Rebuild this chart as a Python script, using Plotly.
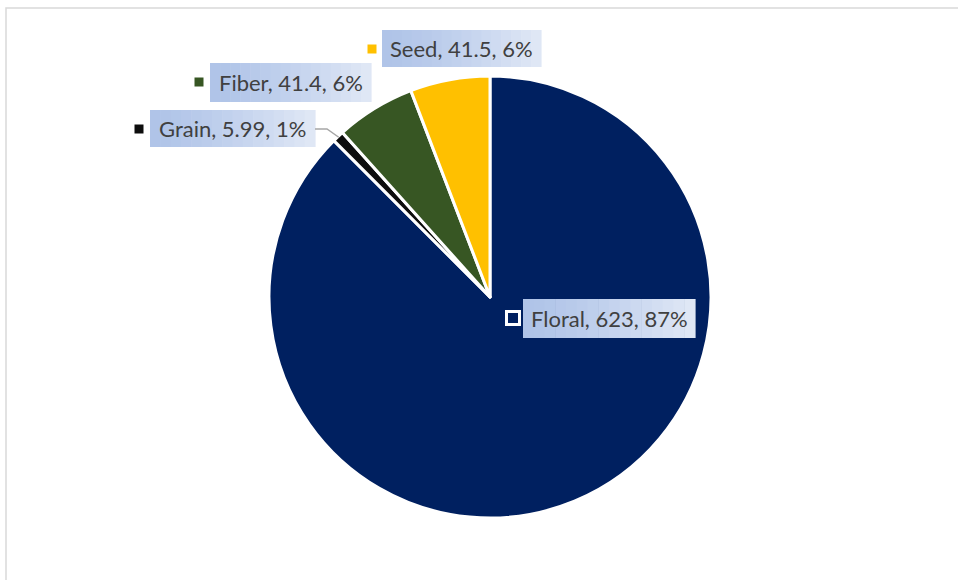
import math
import plotly.graph_objects as go

# ---- data ----
categories = ["Floral", "Grain", "Fiber", "Seed"]
values = [623, 5.99, 41.4, 41.5]
value_labels = ["623", "5.99", "41.4", "41.5"]
percent_labels = ["87%", "1%", "6%", "6%"]
colors = ["#002060", "#0d0d0d", "#375623", "#ffc000"]

W, H = 958, 580
total = sum(values)

def px(x):
    return x / W

def py(y):
    return 1 - y / H

# pie geometry (pixels)
cx, cy, r = 490, 297, 221

fig = go.Figure(go.Pie(
    labels=categories,
    values=values,
    sort=False,
    direction="clockwise",
    rotation=0,
    marker=dict(colors=colors, line=dict(color="white", width=3)),
    textinfo="none",
    hoverinfo="label+value+percent",
    showlegend=False,
    domain=dict(x=[px(cx - r), px(cx + r)], y=[py(cy + r), py(cy - r)]),
))

# label boxes: (x0, y0, x1, y1) pixel layout and marker centers
boxes = {
    "Floral": (523, 299, 695, 338, 513, 318),
    "Grain": (150, 110, 315, 147, 139, 129),
    "Fiber": (210, 63, 371, 102, 199, 82),
    "Seed": (382, 30, 541, 67, 372, 49),
}

def lerp_color(c1, c2, t):
    a = [int(c1[i:i + 2], 16) for i in (1, 3, 5)]
    b = [int(c2[i:i + 2], 16) for i in (1, 3, 5)]
    return "#" + "".join(f"{round(a[k] + (b[k] - a[k]) * t):02x}" for k in range(3))

shapes = []
annotations = []
# outer frame
shapes.append(dict(type="rect", xref="paper", yref="paper",
                   x0=px(6), x1=px(W + 5), y0=py(H + 5), y1=py(8),
                   line=dict(color="#d9d9d9", width=1.5), fillcolor="rgba(0,0,0,0)"))

N = 16
for cat, lab, pct, col in zip(categories, value_labels, percent_labels, colors):
    x0, y0, x1, y1, mx, my = boxes[cat]
    bw = (x1 - x0) / N
    for i in range(N):
        t = i / (N - 1)
        c = lerp_color("#b0c4e8", "#dfe7f5", t ** 1.3)
        shapes.append(dict(type="rect", xref="paper", yref="paper",
                           x0=px(x0 + i * bw), x1=px(x0 + (i + 1) * bw + 0.6),
                           y0=py(y1), y1=py(y0),
                           line=dict(width=0), fillcolor=c, layer="above"))
    annotations.append(dict(
        xref="paper", yref="paper",
        x=px((x0 + x1) / 2), y=py((y0 + y1) / 2),
        xanchor="center", yanchor="middle",
        text=f"{cat}, {lab}, {pct}",
        showarrow=False,
        font=dict(family="Lato, Open Sans, sans-serif", size=22, color="#404040"),
    ))
    # legend key marker
    if cat == "Floral":
        s = 6.5
        shapes.append(dict(type="rect", xref="paper", yref="paper",
                           x0=px(mx - s), x1=px(mx + s), y0=py(my + s), y1=py(my - s),
                           line=dict(color="white", width=3), fillcolor=col, layer="above"))
    else:
        s = 4.5
        shapes.append(dict(type="rect", xref="paper", yref="paper",
                           x0=px(mx - s), x1=px(mx + s), y0=py(my + s), y1=py(my - s),
                           line=dict(width=0), fillcolor=col, layer="above"))

# leader line for Grain, ending at the slice's mid-angle on the rim
mid_frac = (values[0] + values[1] / 2) / total
ang = mid_frac * 2 * math.pi
ex = cx + (r - 1) * math.sin(ang)
ey = cy - (r - 1) * math.cos(ang)
gx1 = boxes["Grain"][2]
gy = boxes["Grain"][5]
path = f"M {px(gx1)} {py(gy)} L {px(gx1 + 12)} {py(gy)} L {px(ex)} {py(ey)}"
shapes.append(dict(type="path", xref="paper", yref="paper", path=path,
                   line=dict(color="#a6a6a6", width=1.5), layer="above"))

fig.update_layout(
    width=W, height=H,
    margin=dict(l=0, r=0, t=0, b=0),
    paper_bgcolor="white",
    plot_bgcolor="white",
    shapes=shapes,
    annotations=annotations,
)

fig.write_html("out.html")
